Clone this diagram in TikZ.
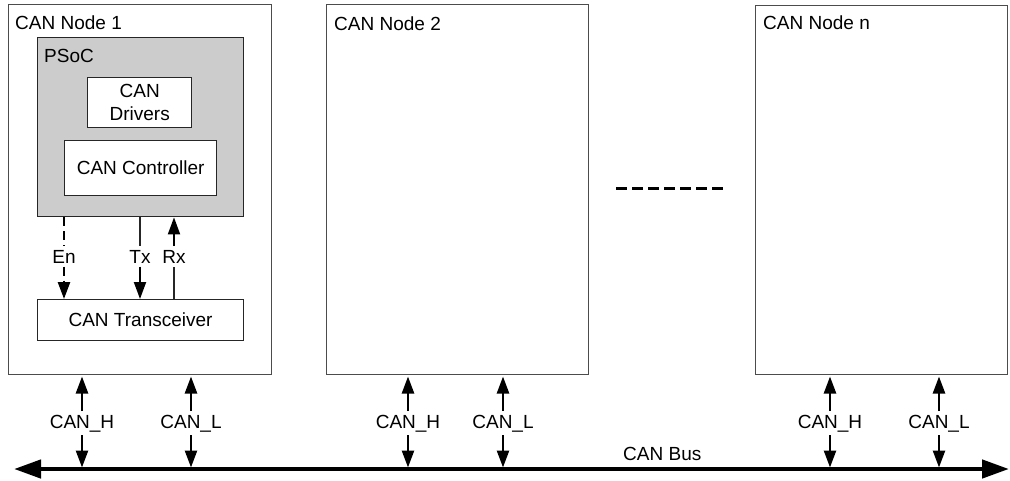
\documentclass[tikz,border=0pt]{standalone}
\usepackage{fontspec}
\setmainfont{Liberation Sans}
\usetikzlibrary{arrows.meta}
\begin{document}
\begin{tikzpicture}[x=1pt,y=-1pt,
  txt/.style={font=\fontsize{19}{22.5}\selectfont, inner sep=0pt, text=black},
  nodebox/.style={draw=black!70, line width=1pt, anchor=north west, inner sep=0pt, fill=white},
  psocbox/.style={draw=black!85, line width=1.4pt, anchor=north west, inner sep=0pt, fill=gray!40},
  innerbox/.style={draw=black!85, line width=1.4pt, anchor=north west, inner sep=0pt, fill=white,
    font=\fontsize{19}{22.5}\selectfont, align=center},
  lbl/.style={font=\fontsize{19}{22.5}\selectfont, inner sep=3.5pt, anchor=base, fill=white},
  thinline/.style={line width=1.1pt, draw=black!85},
  sigarr/.style={line width=2pt, -{Triangle[length=17pt,width=12pt]}},
  enline/.style={line width=2.5pt, dash pattern=on 9pt off 5pt},
  canarr/.style={line width=2.5pt, -{Triangle[length=17pt,width=12pt]}, shorten >=1.5pt},
  busline/.style={line width=4.5pt, {Triangle[length=27pt,width=18pt]}-{Triangle[length=27pt,width=18pt]}},
]
\useasboundingbox (0,0) rectangle (1010,480);

% CAN nodes
\node[nodebox, minimum width=263pt, minimum height=370pt] (n1) at (8,4) {};
\node[nodebox, minimum width=262pt, minimum height=370pt] (n2) at (326,4) {};
\node[nodebox, minimum width=252pt, minimum height=369pt] (nn) at (755,5) {};
\node[txt, anchor=base west] (t1) at (15,29.5) {CAN Node 1};
\node[txt, anchor=base west] (t2) at (334,30) {CAN Node 2};
\node[txt, anchor=base west] (tn) at (763,29.5) {CAN Node n};

% PSoC
\node[psocbox, minimum width=206pt, minimum height=179pt] (psoc) at (37,37) {};
\node[txt, anchor=base west] (tp) at (44,62.5) {PSoC};
\node[innerbox, minimum width=104pt, minimum height=50pt] (drv) at (87,77) {CAN\\Drivers};
\node[innerbox, minimum width=152pt, minimum height=55pt] (ctrl) at (64,140) {CAN Controller};
\node[innerbox, minimum width=206pt, minimum height=41pt, line width=1.1pt] (xcv) at (37,299) {CAN Transceiver};

% En / Tx / Rx
\node[lbl] (en) at (64,263) {En};
\node[lbl] (tx) at (140,263) {Tx};
\node[lbl] (rx) at (174,263) {Rx};
\draw[enline] (psoc.south -| en) -- (en);
\draw[enline, -{Triangle[length=17pt,width=12pt]}] (en) -- (en |- xcv.north);
\draw[thinline] (psoc.south -| tx) -- (tx);
\draw[sigarr] (tx) -- (tx |- xcv.north);
\draw[thinline] (xcv.north -| rx) -- (rx);
\draw[sigarr] (rx) -- (rx |- psoc.south);

% ellipsis between nodes
\coordinate (d1) at (616,188);
\coordinate (d2) at (728,188);
\draw[line width=3pt, dash pattern=on 11pt off 5pt] (d1) -- (d2);

% CAN bus
\coordinate (bl) at (14,469);
\coordinate (br) at (1009,469);
\draw[busline] (bl) -- (br);
\node[txt, anchor=base west] (tbus) at (623,460) {CAN Bus};

% CAN_H / CAN_L connections
\node[lbl] (h1) at (82,428) {CAN\_H};
\node[lbl] (l1) at (191,428) {CAN\_L};
\node[lbl] (h2) at (408,428) {CAN\_H};
\node[lbl] (l2) at (503,428) {CAN\_L};
\node[lbl] (hn) at (830,428) {CAN\_H};
\node[lbl] (ln) at (939,428) {CAN\_L};
\foreach \l/\n in {h1/n1, l1/n1, h2/n2, l2/n2, hn/nn, ln/nn}{
  \draw[canarr] (\l) -- (\l |- \n.south);
  \draw[canarr] (\l) -- (\l |- bl);
}
\end{tikzpicture}
\end{document}
